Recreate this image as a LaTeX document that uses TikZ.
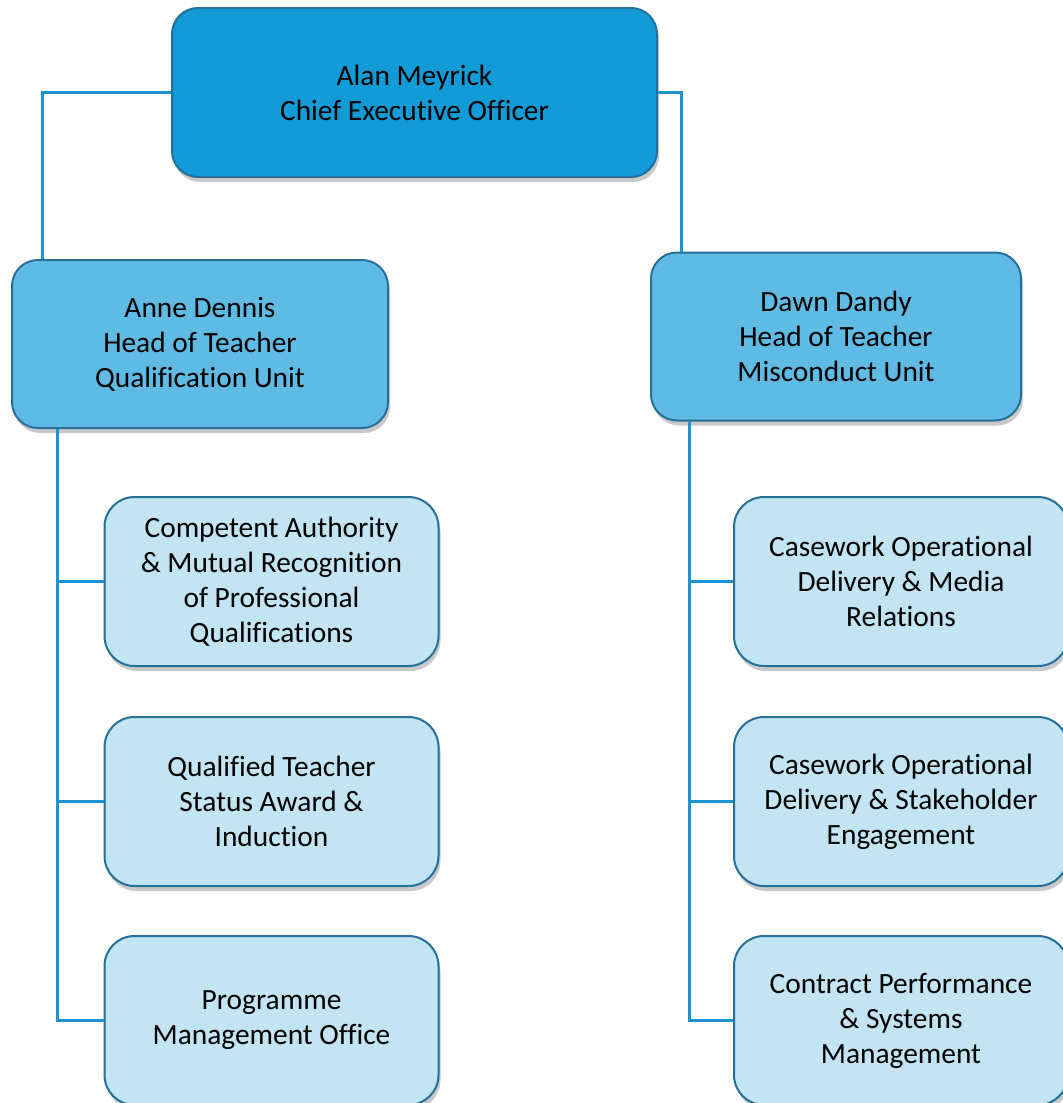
\documentclass[tikz,border=0pt]{standalone}
\usepackage{fontspec}
\setmainfont{Carlito}[Ligatures=NoCommon]
\usepackage{xcolor}
\usepackage{tikz}
\usetikzlibrary{positioning,shadows}
\definecolor{topfill}{HTML}{129BD6}
\definecolor{headfill}{HTML}{60BBE4}
\definecolor{unitfill}{HTML}{C3E4F3}
\definecolor{rim}{HTML}{24709A}
\definecolor{wire}{HTML}{1A95D2}

\begin{document}
\begin{tikzpicture}[
  x=0.5pt, y=-0.5pt,
  font=\fontsize{14.7pt}{17.5pt}\selectfont,
  card/.style={draw=rim, line width=1pt, rounded corners=13pt, align=center,
               inner sep=0pt,
               drop shadow={shadow xshift=1pt, shadow yshift=-2.5pt, opacity=0.3, fill=black!70}},
  chief/.style={card, fill=topfill, minimum width=242.5pt, minimum height=84.5pt},
  head/.style={card, fill=headfill, minimum width=188pt, minimum height=84pt},
  unit/.style={card, fill=unitfill, rounded corners=15pt, minimum width=167pt, minimum height=84.5pt},
  link/.style={draw=wire, line width=1.5pt}
]
  \useasboundingbox (0,0) rectangle (1063,1103);

  \node[chief] (ceo) at (414.5,92.5) {Alan Meyrick\\Chief Executive Officer};
  \node[head] (anne) at (200,344) {Anne Dennis\\Head of Teacher\\Qualification Unit};
  \node[head, minimum width=185pt] (dawn) at (836,336.5) {Dawn Dandy\\Head of Teacher\\Misconduct Unit};

  % qualification side
  \node[unit] (comp) at (271.5,581.5) {Competent Authority\\\& Mutual Recognition\\of Professional\\Qualifications};
  \node[unit] (qts) at (271.5,801.5) {Qualified Teacher\\Status Award \&\\Induction};
  \node[unit] (pmo) at (271.5,1020.5) {Programme\\Management Office};

  % misconduct side
  \node[unit] (media) at (901,581.5) {Casework Operational\\Delivery \& Media\\Relations};
  \node[unit] (stake) at (901,801.5) {Casework Operational\\Delivery \& Stakeholder\\Engagement};
  \node[unit] (cpsm) at (901,1020.5) {Contract Performance\\\& Systems\\Management};

  \draw[link] (ceo.west) -| ([xshift=15.5pt]anne.north west);
  \draw[link] (ceo.east) -| ([xshift=15.5pt]dawn.north west);

  \coordinate (ltrunk) at ([xshift=23pt]anne.south west);
  \draw[link] (ltrunk) |- (pmo.west);
  \draw[link] (ltrunk |- comp.west) -- (comp.west);
  \draw[link] (ltrunk |- qts.west) -- (qts.west);

  \coordinate (rtrunk) at ([xshift=19.5pt]dawn.south west);
  \draw[link] (rtrunk) |- (cpsm.west);
  \draw[link] (rtrunk |- media.west) -- (media.west);
  \draw[link] (rtrunk |- stake.west) -- (stake.west);
\end{tikzpicture}
\end{document}
